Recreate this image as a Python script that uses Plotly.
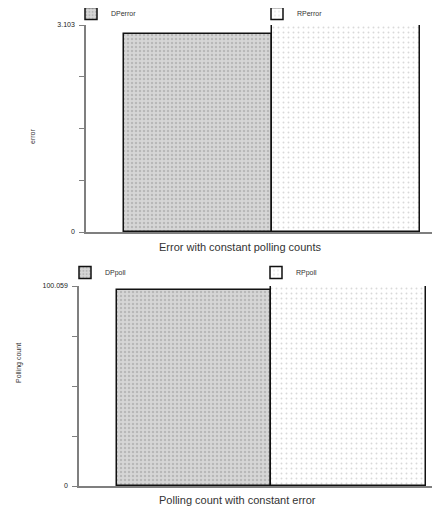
import plotly.graph_objects as go

# ---- data ----
categories = ["DP", "RP"]
error_names = ["DPerror", "RPerror"]
error_values = [2.968, 3.100]
error_max = 3.103
poll_names = ["DPpoll", "RPpoll"]
poll_values = [98.0, 100.0]
poll_max = 100.059

error_tick_text = ["0", "", "", "", "3.103"]
poll_tick_text = ["0", "", "", "", "100.059"]

FONT = "Liberation Sans, Arial, sans-serif"
OFF = 8                 # page body margin in the browser
W, H = 440 - OFF, 508 - OFF

dp_pattern = dict(shape=".", bgcolor="#d6d6d6", fgcolor="#9a9a9a", size=4, solidity=0.3)
rp_pattern = dict(shape=".", bgcolor="#ffffff", fgcolor="#b4b4b4", size=5, solidity=0.12)
patterns = [dp_pattern, rp_pattern]

fig = go.Figure()

for i in range(2):
    fig.add_trace(go.Bar(
        x=[categories[i]], y=[error_values[i]], name=error_names[i],
        width=1, marker=dict(color=patterns[i]["bgcolor"], pattern=patterns[i],
                             line=dict(color="#111111", width=1.5)),
        xaxis="x", yaxis="y", legend="legend", showlegend=True))

for i in range(2):
    fig.add_trace(go.Bar(
        x=[categories[i]], y=[poll_values[i]], name=poll_names[i],
        width=1, marker=dict(color=patterns[i]["bgcolor"], pattern=patterns[i],
                             line=dict(color="#111111", width=1.5)),
        xaxis="x2", yaxis="y2", legend="legend2", showlegend=True))

def px_x(p):
    return (p - OFF) / W

def px_y(p):
    return 1 - (p - OFF) / H

axis_common = dict(showgrid=False, zeroline=False, showline=True, linecolor="#7f7f7f",
                   linewidth=1.5, ticks="outside", tickcolor="#7f7f7f", ticklen=5,
                   tickwidth=1, ticklabelstandoff=3,
                   tickfont=dict(size=7, color="#222222", family=FONT))

legend_common = dict(orientation="h", xanchor="left", yanchor="top",
                     entrywidthmode="pixels", itemwidth=30,
                     font=dict(size=7, family=FONT, color="#333333"),
                     bgcolor="rgba(0,0,0,0)", tracegroupgap=0)

fig.update_layout(
    width=W, height=H,
    margin=dict(l=0, r=0, t=0, b=0, autoexpand=False),
    paper_bgcolor="white", plot_bgcolor="white",
    barmode="overlay", bargap=0,
    font=dict(family=FONT, color="#333333"),
    xaxis=dict(domain=[px_x(86), 1], range=[-0.757, 1.635], showgrid=False,
               zeroline=False, showline=True, linecolor="#7f7f7f", linewidth=1.5,
               showticklabels=False, ticks="", anchor="y", automargin=False),
    yaxis=dict(domain=[px_y(232), px_y(25)], range=[0, error_max],
               tickvals=[error_max * k / 4 for k in range(5)], ticktext=error_tick_text,
               anchor="x", automargin=False, **axis_common),
    xaxis2=dict(domain=[px_x(79), 1], range=[-0.747, 1.594], showgrid=False,
                zeroline=False, showline=True, linecolor="#7f7f7f", linewidth=1.5,
                showticklabels=False, ticks="", anchor="y2", automargin=False),
    yaxis2=dict(domain=[px_y(486), px_y(286)], range=[0, poll_max],
                tickvals=[poll_max * k / 4 for k in range(5)], ticktext=poll_tick_text,
                anchor="x2", automargin=False, **axis_common),
    legend=dict(x=px_x(71), y=px_y(-1), entrywidth=141, **legend_common),
    legend2=dict(x=px_x(65), y=px_y(258), entrywidth=146, **legend_common),
    annotations=[
        dict(text="Error with constant polling counts", x=px_x(240), y=px_y(247),
             xref="paper", yref="paper", showarrow=False, xanchor="center", yanchor="middle",
             font=dict(size=11, family=FONT, color="#333333")),
        dict(text="Polling count with constant error", x=px_x(237), y=px_y(500),
             xref="paper", yref="paper", showarrow=False, xanchor="center", yanchor="middle",
             font=dict(size=11, family=FONT, color="#333333")),
        dict(text="error", x=px_x(27), y=px_y(127), xref="paper", yref="paper",
             showarrow=False, textangle=-90, font=dict(size=7, family=FONT, color="#333333")),
        dict(text="Polling count", x=px_x(13), y=px_y(385), xref="paper", yref="paper",
             showarrow=False, textangle=-90, font=dict(size=7, family=FONT, color="#333333")),
    ],
)

fig.write_html("out.html")
